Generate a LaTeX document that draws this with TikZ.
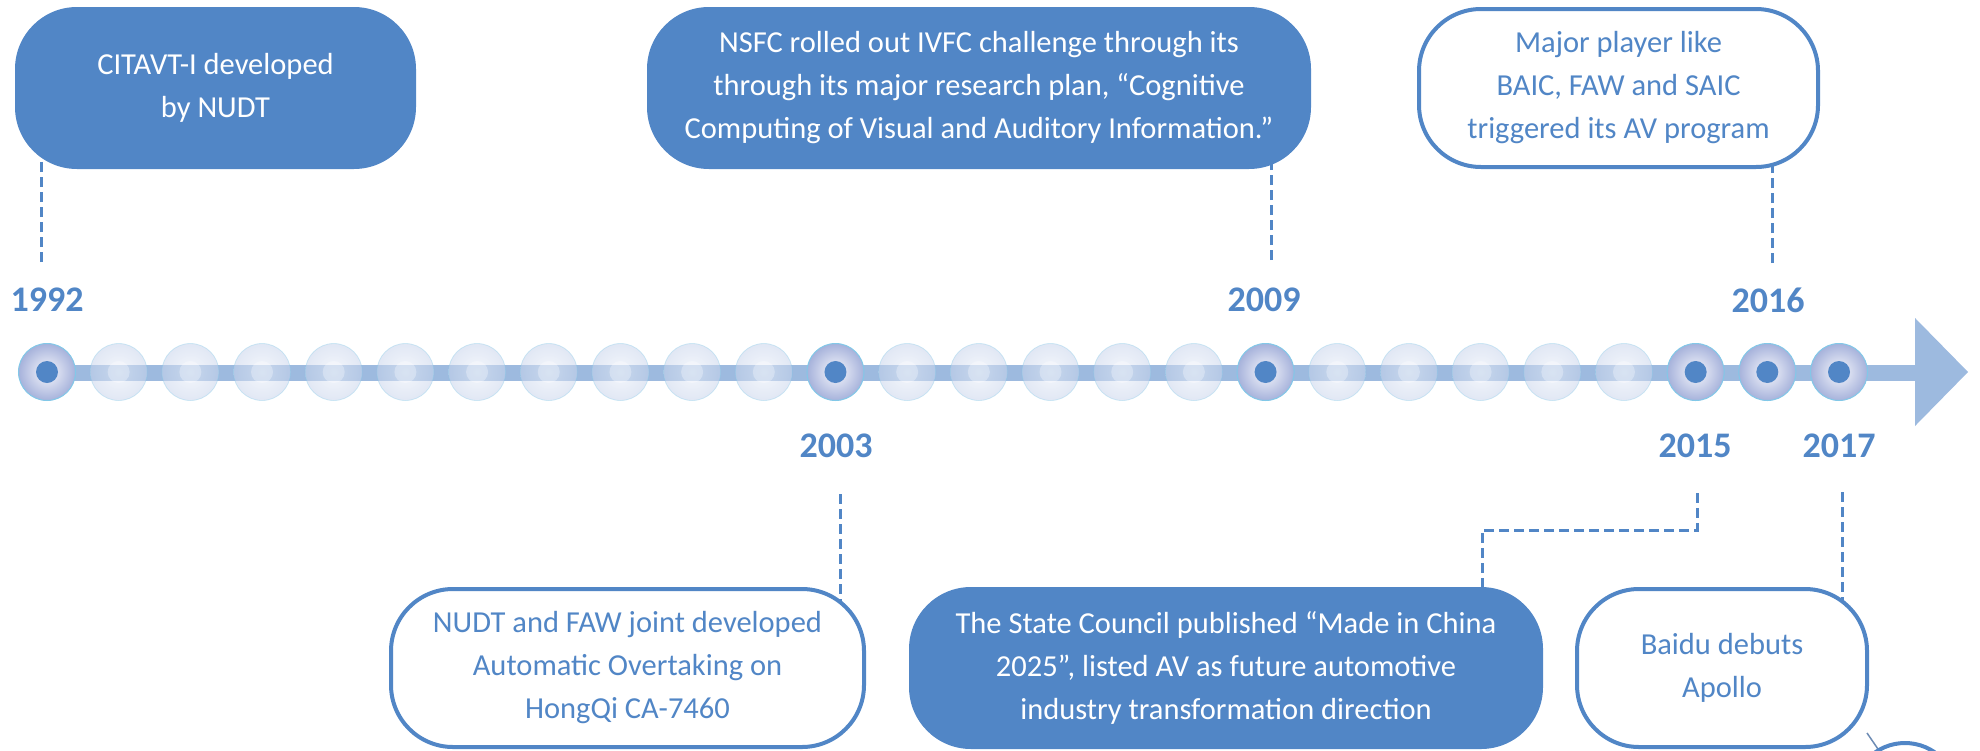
\documentclass[tikz,border=0pt]{standalone}
\usepackage{fontspec}
\setmainfont{Carlito}
\usetikzlibrary{calc}
\definecolor{mainblue}{RGB}{81,134,198}
\definecolor{barblue}{RGB}{157,186,223}
\definecolor{ballin}{RGB}{246,247,252}
\definecolor{ballout}{RGB}{166,178,219}
\definecolor{ballrim}{RGB}{130,200,232}
\definecolor{fadein}{RGB}{235,240,250}
\definecolor{fadeout}{RGB}{200,212,235}
\definecolor{logoline}{RGB}{110,140,180}
\pgfdeclarelayer{background}
\pgfsetlayers{background,main}
\begin{document}
\begin{tikzpicture}[x=1pt,y=-1pt,
  boxtext/.style={align=center, font=\fontsize{30.5}{43}\selectfont, inner sep=0pt, rounded corners=62pt},
  solidbox/.style={boxtext, fill=mainblue, text=white, minimum height=162pt},
  openbox/.style={boxtext, draw=mainblue, line width=4pt, fill=white, text=mainblue, minimum height=158pt},
  yearlabel/.style={font=\bfseries\fontsize{36}{36}\selectfont, text=mainblue, inner sep=0pt},
  dashline/.style={draw=mainblue, line width=3pt, dash pattern=on 10pt off 5pt},
  activeball/.style={circle, minimum size=57pt, inner sep=0pt, draw=ballrim, line width=1pt, inner color=ballin, outer color=ballout},
  fadeball/.style={inner color=fadein, outer color=fadeout, opacity=0.55}
]
\useasboundingbox (0,0) rectangle (1980,750);

% timeline bar and arrow head
\fill[barblue] (47,365) rectangle (1916,381);
\fill[barblue] (1915,318) -- (1968,372) -- (1915,426) -- cycle;

% faded year markers
\foreach \i in {1,...,10,12,13,14,15,16,18,19,20,21,22} {
  \pgfmathsetmacro\xx{47+71.68*\i}
  \shade[fadeball] (\xx,372) circle (28.5pt);
  \draw[ballrim, opacity=0.35, line width=0.8pt] (\xx,372) circle (28.5pt);
  \fill[white, opacity=0.3] (\xx,372) circle (11pt);
}

% active year markers
\foreach \i/\nm in {0/c92,11/c03,17/c09,23/c15,24/c16,25/c17} {
  \pgfmathsetmacro\xx{47+71.68*\i}
  \node[activeball] (\nm) at (\xx,372) {};
  \fill[mainblue] (\nm.center) circle (11pt);
}

% year labels
\node[yearlabel] (y92) at (47,300) {1992};
\node[yearlabel] (y09) at (1264,300) {2009};
\node[yearlabel] (y16) at (1768,300) {2016};
\node[yearlabel] (y03) at (836,446) {2003};
\node[yearlabel] (y15) at (1695,446) {2015};
\node[yearlabel] (y17) at (1839,446) {2017};

% event boxes
\node[solidbox, minimum width=401pt] (b1) at (215.5,88) {CITAVT-I developed\\by NUDT};
\node[solidbox, minimum width=664pt] (b2) at (979,88) {NSFC rolled out IVFC challenge through its\\through its major research plan, “Cognitive\\Computing of Visual and Auditory Information.”};
\node[openbox, minimum width=399pt] (b3) at (1618.5,88) {Major player like\\BAIC, FAW and SAIC\\triggered its AV program};
\node[openbox, minimum width=473pt] (b4) at (627.5,668) {NUDT and FAW joint developed\\Automatic Overtaking on\\HongQi CA-7460};
\node[solidbox, minimum width=634pt] (b5) at (1226,668) {The State Council published “Made in China\\2025”, listed AV as future automotive\\industry transformation direction};
\node[openbox, minimum width=290pt] (b6) at (1722,668) {Baidu debuts\\Apollo};

% dashed leaders
\coordinate (d92) at (41,262);
\coordinate (d09) at (1271,260);
\coordinate (d16) at (1772,263);
\coordinate (d03) at (840,494);
\coordinate (d15) at (1697,493);
\coordinate (k15) at (1482,530);
\coordinate (d17) at (1842,492);
\begin{pgfonlayer}{background}
\draw[dashline] (d92) -- (d92 |- b1.center);
\draw[dashline] (d09) -- (d09 |- b2.center);
\draw[dashline] (d16) -- (d16 |- b3.center);
\draw[dashline] (d03) -- (d03 |- b4.center);
\draw[dashline] (d15) |- (k15) -- (k15 |- b5.center);
\draw[dashline] (d17) -- (d17 |- b6.center);
\end{pgfonlayer}

% partial logo at lower right edge
\draw[logoline, line width=1.5pt] (1867,733) -- (1880,752);
\draw[mainblue, line width=4pt] (1905,795) circle (52pt);
\end{tikzpicture}
\end{document}
